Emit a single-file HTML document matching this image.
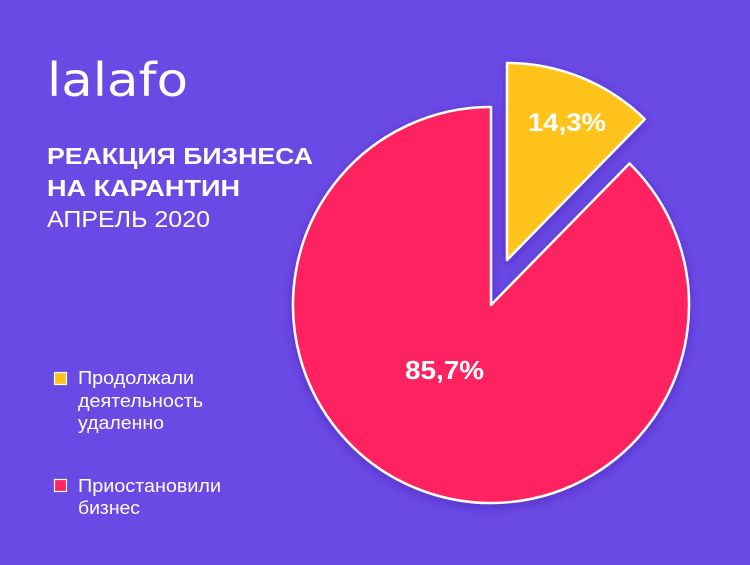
<!DOCTYPE html>
<html>
<head>
<meta charset="utf-8">
<style>
  html,body{margin:0;padding:0;background:#6a4ae4;}
  svg{display:block;}
  text{font-family:"Liberation Sans","DejaVu Sans",sans-serif;fill:#ffffff;}
</style>
</head>
<body>
<svg width="750" height="565" viewBox="0 0 750 565" xmlns="http://www.w3.org/2000/svg">
  <defs>
    <filter id="sh" x="-20%" y="-20%" width="140%" height="140%">
      <feDropShadow dx="0" dy="3" stdDeviation="5" flood-color="#3a1fa8" flood-opacity="0.45"/>
    </filter>
  </defs>
  <rect x="0" y="0" width="750" height="565" fill="#6a4ae4"/>

  <!-- logo -->
  <text x="47" y="96" font-size="46" textLength="141" lengthAdjust="spacingAndGlyphs" style="font-family:'DejaVu Sans',sans-serif">lalafo</text>

  <!-- title -->
  <text x="47" y="164" font-size="23" font-weight="bold" textLength="266" lengthAdjust="spacingAndGlyphs">РЕАКЦИЯ БИЗНЕСА</text>
  <text x="47" y="196" font-size="23" font-weight="bold" textLength="193" lengthAdjust="spacingAndGlyphs">НА КАРАНТИН</text>
  <text x="47" y="227" font-size="23" textLength="163" lengthAdjust="spacingAndGlyphs">АПРЕЛЬ 2020</text>

  <!-- pie -->
  <path d="M491,305 L629.5,163.5 A198,198 0 1 1 491,107 Z" fill="#ff2360" stroke="#ffffff" stroke-width="2.5" stroke-linejoin="round" filter="url(#sh)"/>
  <path d="M507,260 L507,63 A197,197 0 0 1 644.8,119.2 Z" fill="#ffc31f" stroke="#ffffff" stroke-width="2.5" stroke-linejoin="round" filter="url(#sh)"/>

  <text x="528" y="131" font-size="25" font-weight="bold" textLength="78" lengthAdjust="spacingAndGlyphs">14,3%</text>
  <text x="405" y="379" font-size="26" font-weight="bold" textLength="79" lengthAdjust="spacingAndGlyphs">85,7%</text>

  <!-- legend -->
  <rect x="54.5" y="372.5" width="12" height="12" fill="#ffc31f" stroke="#ffffff" stroke-width="1.2"/>
  <text x="78" y="384" font-size="18" textLength="116" lengthAdjust="spacingAndGlyphs">Продолжали</text>
  <text x="78" y="407" font-size="18" textLength="125" lengthAdjust="spacingAndGlyphs">деятельность</text>
  <text x="78" y="429" font-size="18" textLength="86" lengthAdjust="spacingAndGlyphs">удаленно</text>

  <rect x="54.5" y="479.5" width="12" height="12" fill="#ff2360" stroke="#ffffff" stroke-width="1.2"/>
  <text x="78" y="492" font-size="18" textLength="143" lengthAdjust="spacingAndGlyphs">Приостановили</text>
  <text x="78" y="514" font-size="18" textLength="62" lengthAdjust="spacingAndGlyphs">бизнес</text>
</svg>
</body>
</html>
